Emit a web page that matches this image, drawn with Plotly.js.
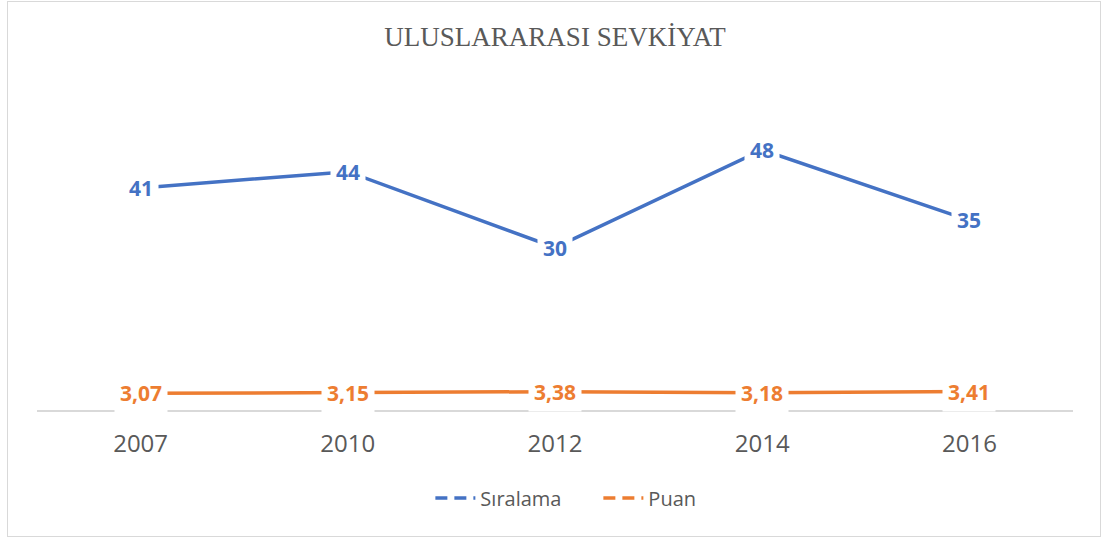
<!DOCTYPE html>
<html>
<head>
<meta charset="utf-8">
<script src="https://cdn.plot.ly/plotly-3.0.1.min.js"></script>
<style>
  html, body { margin: 0; padding: 0; background: #fff; overflow: hidden; }
  #wrap { position: relative; width: 1104px; height: 541px; }
  #chart { width: 1104px; height: 541px; }
  #frame { position: absolute; left: 7px; top: 1px; width: 1092px; height: 534px;
           border: 1.5px solid #D9D9D9; pointer-events: none; }
</style>
</head>
<body>
<div id="wrap">
  <div id="chart"></div>
  <div id="frame"></div>
</div>
<script>
const years = ['2007', '2010', '2012', '2014', '2016'];
const siralama = [41, 44, 30, 48, 35];
const puan = [3.07, 3.15, 3.38, 3.18, 3.41];
const seriesNames = ['Sıralama', 'Puan'];
const colors = ['#4472C4', '#ED7D31'];
const titleText = 'ULUSLARARASI SEVKİYAT';

const fmt = (v) => Number.isInteger(v) ? String(v) : v.toFixed(2).replace('.', ',');

const seriesData = [siralama, puan];
const traces = [];
seriesData.forEach((ys, i) => {
  traces.push({
    type: 'scatter', mode: 'lines', x: years, y: ys,
    line: { color: colors[i], width: 3.5 },
    showlegend: false, hoverinfo: 'skip'
  });
});
seriesData.forEach((ys, i) => {
  traces.push({
    type: 'scatter', mode: 'lines', x: years, y: ys.map(() => null),
    name: seriesNames[i],
    line: { color: colors[i], width: 3.5, dash: '12px,7px' },
    showlegend: true, hoverinfo: 'skip'
  });
});

const annotations = [];
seriesData.forEach((ys, i) => {
  ys.forEach((v, j) => {
    annotations.push({
      x: j, y: v, xref: 'x', yref: 'y',
      text: fmt(v), showarrow: false,
      font: { family: 'Open Sans, sans-serif', size: 21, color: colors[i], weight: 'bold' },
      bgcolor: '#ffffff', borderpad: 5,
      xanchor: 'center', yanchor: 'middle'
    });
  });
});

const layout = {
  width: 1104, height: 541,
  margin: { l: 37, r: 31, t: 85, b: 131 },
  paper_bgcolor: '#ffffff', plot_bgcolor: '#ffffff',
  title: {
    text: titleText,
    font: { family: 'Liberation Serif, Times New Roman, serif', size: 27, color: '#595959' },
    x: 0.5, xanchor: 'center', xref: 'paper',
    y: 1 - 37 / 541, yanchor: 'middle', yref: 'container'
  },
  xaxis: {
    type: 'category', categoryorder: 'array', categoryarray: years,
    range: [-0.5, years.length - 0.5], autorange: false,
    showline: true, linecolor: '#D9D9D9', linewidth: 1.5,
    showgrid: false, zeroline: false, ticks: '',
    ticklabelstandoff: 12,
    tickfont: { family: 'Open Sans, sans-serif', size: 24, color: '#595959' },
    fixedrange: true
  },
  yaxis: {
    range: [0, 60], autorange: false, visible: false, showgrid: false, zeroline: false, fixedrange: true
  },
  showlegend: true,
  legend: {
    orientation: 'h', x: 0.542, xanchor: 'center', xref: 'container',
    y: 1 - 498 / 541, yanchor: 'middle', yref: 'container',
    font: { family: 'Open Sans, sans-serif', size: 20, color: '#595959' },
    entrywidth: 113, entrywidthmode: 'pixels',
    itemwidth: 40, tracegroupgap: 0, bgcolor: 'rgba(0,0,0,0)'
  },
  annotations: annotations
};

Plotly.newPlot('chart', traces, layout, { displayModeBar: false, staticPlot: true });
</script>
</body>
</html>
